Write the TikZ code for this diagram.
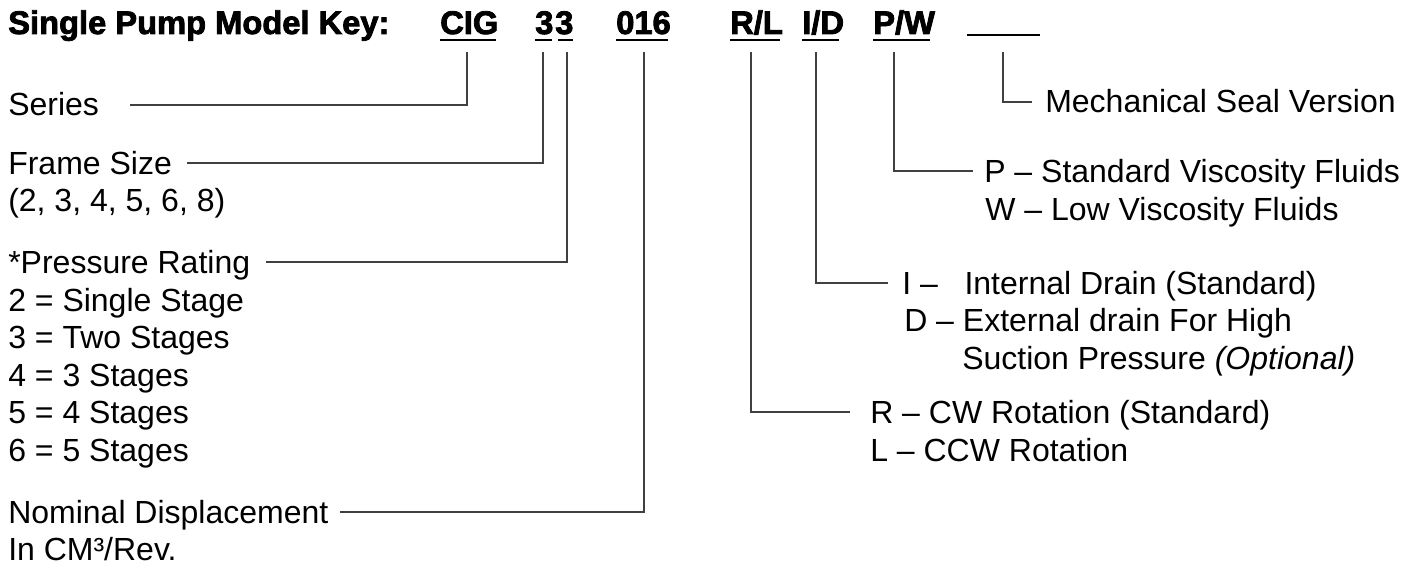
\documentclass[tikz,border=0pt]{standalone}
\usepackage{fontspec}
\setmainfont{Liberation Sans}
\newfontfamily\heavy{Liberation Sans Bold}[FakeBold=2.5]
\usetikzlibrary{calc}
\begin{document}
\begin{tikzpicture}[x=0.75pt,y=-0.75pt,
  txt/.style={anchor=base west,inner sep=0pt,font=\fontsize{24}{28}\selectfont},
  code/.style={anchor=base west,inner sep=0pt,font=\heavy\fontsize{24.5}{28}\selectfont},
  ul/.style={line width=1.1pt,black},
  conn/.style={line width=1pt,black!75}]
\useasboundingbox (0,0) rectangle (1418,567);
% header
\node[code] (title) at (8,34) {Single Pump Model Key:};
\node[code] (cig) at (440,34) {CIG};
\node[code] (fa) at (535,34) {3};
\node[code] (fb) at (555,34) {3};
\node[code] (disp) at (616,34) {016};
\node[code] (rl) at (730,34) {R/L};
\node[code] (id) at (802,34) {I/D};
\node[code] (pw) at (873,34) {P/W};
\coordinate (blankL) at (967,35);
\coordinate (blankR) at (1040,35);
% underlines
\draw[ul] ($(cig.base west)+(0,6)$) -- ($(cig.base east)+(-3,6)$);
\draw[ul] ($(fa.base west)+(0,6)$) -- ($(fa.base east)+(-2,6)$);
\draw[ul] ($(fb.base west)+(3,6)$) -- ($(fb.base east)+(-1,6)$);
\draw[ul] ($(disp.base west)+(0,6)$) -- ($(disp.base east)+(-3,6)$);
\draw[ul] ($(rl.base west)+(0,6)$) -- ($(rl.base east)+(-3,6)$);
\draw[ul] ($(id.base west)+(0,6)$) -- ($(id.base east)+(-5,6)$);
\draw[ul] ($(pw.base west)+(0,6)$) -- ($(pw.base east)+(-5,6)$);
\draw[line width=1.5pt] (blankL) -- (blankR);
% left labels
\node[txt] (series) at (8,116) {Series};
\node[txt] (frame) at (8,174) {Frame Size};
\node[txt] (frame2) at (8,211) {(2, 3, 4, 5, 6, 8)};
\node[txt] (press) at (8,273) {*Pressure Rating};
\node[txt] (p2) at (8,311) {2 = Single Stage};
\node[txt] (p3) at (8,348) {3 = Two Stages};
\node[txt] (p4) at (8,386) {4 = 3 Stages};
\node[txt] (p5) at (8,423) {5 = 4 Stages};
\node[txt] (p6) at (8,461) {6 = 5 Stages};
\node[txt] (nom) at (8,523) {Nominal Displacement};
\node[txt] (nom2) at (8,560) {In CM³/Rev.};
% right labels
\node[txt] (seal) at (1045,113) {Mechanical Seal Version};
\node[txt] (pwP) at (984,182) {P – Standard Viscosity Fluids};
\node[txt] (pwW) at (985,220) {W – Low Viscosity Fluids};
\node[txt] (idI) at (902,294) {I –\hspace{20pt}Internal Drain (Standard)};
\node[txt] (idD) at (904,331) {D – External drain For High};
\node[txt] (idS) at (962,369) {Suction Pressure \textit{(Optional)}};
\node[txt] (rlR) at (870,423) {R – CW Rotation (Standard)};
\node[txt] (rlL) at (870,461) {L – CCW Rotation};
% connector tops
\coordinate (vc) at (467,52);
\coordinate (vf) at (543,52);
\coordinate (vp) at (567,52);
\coordinate (vd) at (644,52);
\coordinate (vr) at (751,52);
\coordinate (vi) at (816,52);
\coordinate (vw) at (894,52);
\coordinate (vs) at (1003,52);
% connectors
\draw[conn] (vc) |- ($(series.base east)+(31,-11)$);
\draw[conn] (vf) |- ($(frame.base east)+(15,-11)$);
\draw[conn] (vp) |- ($(press.base east)+(16,-11)$);
\draw[conn] (vd) |- ($(nom.base east)+(11,-11)$);
\draw[conn] (vr) |- ($(rlR.base west)+(-20,-11)$);
\draw[conn] (vi) |- ($(idI.base west)+(-14,-11)$);
\draw[conn] (vw) |- ($(pwP.base west)+(-11,-11)$);
\draw[conn] (vs) |- ($(seal.base west)+(-13,-11)$);
\end{tikzpicture}
\end{document}
